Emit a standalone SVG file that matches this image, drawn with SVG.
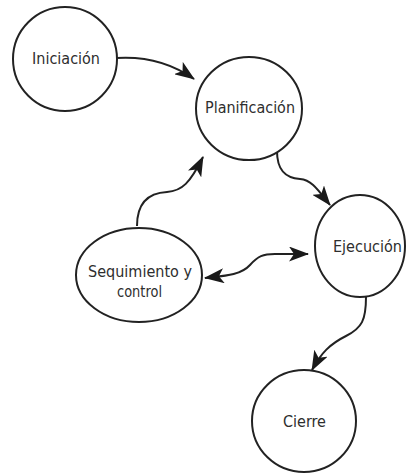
<svg xmlns="http://www.w3.org/2000/svg" width="414" height="475" viewBox="0 0 414 475">
  <style>
    .node { fill: #ffffff; stroke: #222222; stroke-width: 2; }
    .lbl { font-family: "DejaVu Sans Condensed", "Liberation Sans", Arial, sans-serif; font-size: 15px; fill: #2e2e2e; text-anchor: middle; }
    .conn { fill: none; stroke: #222222; stroke-width: 2; }
  </style>
  <defs>
    <marker id="arrow" viewBox="0 0 20 15" refX="19" refY="7.5" markerWidth="20" markerHeight="15" markerUnits="userSpaceOnUse" orient="auto-start-reverse">
      <path d="M0,0 L20,7.5 L0,15 L5,7.5 Z" fill="#1a1a1a"/>
    </marker>
  </defs>
  <rect width="414" height="475" fill="#ffffff"/>
  <g id="connectors">
    <path class="conn" d="M116 58 Q160 55 194 79" marker-end="url(#arrow)"/>
    <path class="conn" d="M277 151 C 277 170, 285 178, 300 179 C 312 180, 318 190, 330 205" marker-end="url(#arrow)"/>
    <path class="conn" d="M137 226 C 137 205, 147 193, 167 192 C 182 191, 190 183, 203 157" marker-end="url(#arrow)"/>
    <path class="conn" d="M205 278 C 222 276, 240 276, 250 265 C 258 256, 263 254, 275 254 L 308 254" marker-start="url(#arrow)" marker-end="url(#arrow)"/>
    <path class="conn" d="M366 297 C 366 320, 362 328, 346 336 C 330 344, 321 353, 312 370" marker-end="url(#arrow)"/>
  </g>
  <g id="iniciacion">
    <circle class="node" cx="65" cy="59" r="52"/>
    <text class="lbl" x="66" y="64" textLength="68" lengthAdjust="spacingAndGlyphs">Iniciación</text>
  </g>
  <g id="planificacion">
    <ellipse class="node" cx="249" cy="108.5" rx="53" ry="51.5"/>
    <text class="lbl" x="250" y="113" textLength="90" lengthAdjust="spacingAndGlyphs">Planificación</text>
  </g>
  <g id="ejecucion">
    <ellipse class="node" cx="360" cy="246" rx="45" ry="51"/>
    <text class="lbl" x="367.5" y="252" textLength="69" lengthAdjust="spacingAndGlyphs">Ejecución</text>
  </g>
  <g id="seguimiento">
    <ellipse class="node" cx="139" cy="275" rx="63" ry="47"/>
    <text class="lbl" x="140" y="277" textLength="104" lengthAdjust="spacingAndGlyphs">Sequimiento y</text>
    <text class="lbl" x="139.5" y="297" textLength="45" lengthAdjust="spacingAndGlyphs">control</text>
  </g>
  <g id="cierre">
    <ellipse class="node" cx="304" cy="421" rx="52" ry="51"/>
    <text class="lbl" x="304.5" y="427" textLength="43" lengthAdjust="spacingAndGlyphs">Cierre</text>
  </g>
</svg>
